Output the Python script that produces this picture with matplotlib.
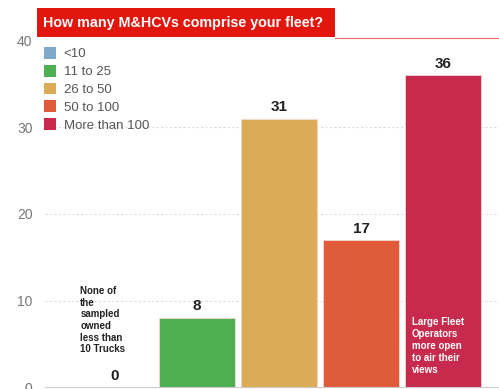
import matplotlib.pyplot as plt
from matplotlib.patches import Rectangle, Patch

plt.rcParams['font.family'] = ['Liberation Sans', 'DejaVu Sans']

categories = ['<10', '11 to 25', '26 to 50', '50 to 100', 'More than 100']
counts = [0, 8, 31, 17, 36]
colors = ['#7fa9c9', '#4daf4f', '#dcab58', '#e05b3a', '#c72a4c']
yticks = [0, 10, 20, 30, 40]

fig = plt.figure(figsize=(4.99, 3.89), dpi=100)
ax = fig.add_axes([0.09, 0.005, 0.91, 0.89])

x = list(range(len(categories)))
bars = ax.bar(x, counts, width=0.93, color=colors, edgecolor='#f3d6d6', linewidth=0.6, zorder=2)

# value labels above each bar
for xi, v in zip(x, counts):
  ax.text(xi, v + 0.5, str(v), ha='center', va='bottom', fontsize=11, fontweight='bold', color='#222222')

ax.text(-0.42, 3.8, 'None of\nthe\nsampled\nowned\nless than\n10 Trucks', ha='left', va='bottom',
  fontsize=7, fontweight='bold', color='#222222', linespacing=1.2)
ax.text(4 - 0.38, 1.4, 'Large Fleet\nOperators\nmore open\nto air their\nviews', ha='left', va='bottom',
  fontsize=7, fontweight='bold', color='white', linespacing=1.25)

ax.set_xlim(-0.85, 4.68)
ax.set_ylim(0, 40)
ax.set_yticks(yticks)
ax.set_xticks([])
ax.tick_params(axis='y', length=0, labelsize=10, labelcolor='#777777', pad=9)
for s in ['top', 'right', 'left']:
  ax.spines[s].set_visible(False)
ax.spines['bottom'].set_color('#cccccc')
for t in [10, 20, 30]:
  ax.axhline(t, color='#dddddd', linestyle=(0, (2, 2)), linewidth=0.8, zorder=1)

handles = [Patch(facecolor=c, edgecolor='none') for c in colors]
ax.legend(handles, categories, loc='upper left', bbox_to_anchor=(-0.02, 1.005), frameon=False,
  fontsize=9.5, labelcolor='#555555', handlelength=0.9, handleheight=1.0, handletextpad=0.6,
  labelspacing=0.33, borderaxespad=0.2)

# header box
W, H = 499.0, 389.0
fig.patches.append(Rectangle((37 / W, 1 - 37 / H), 298 / W, 29 / H, transform=fig.transFigure,
  facecolor='#e2160c', edgecolor='none'))
fig.lines.append(plt.Line2D([335 / W, 1.0], [1 - 37.5 / H, 1 - 37.5 / H], transform=fig.transFigure,
  color='#ef6a6a', linewidth=0.8))
fig.text(43 / W, 1 - 23 / H, 'How many M&HCVs comprise your fleet?', color='white', fontsize=10.3,
  fontweight='bold', va='center', ha='left')

fig.savefig('out.png', dpi=100)
